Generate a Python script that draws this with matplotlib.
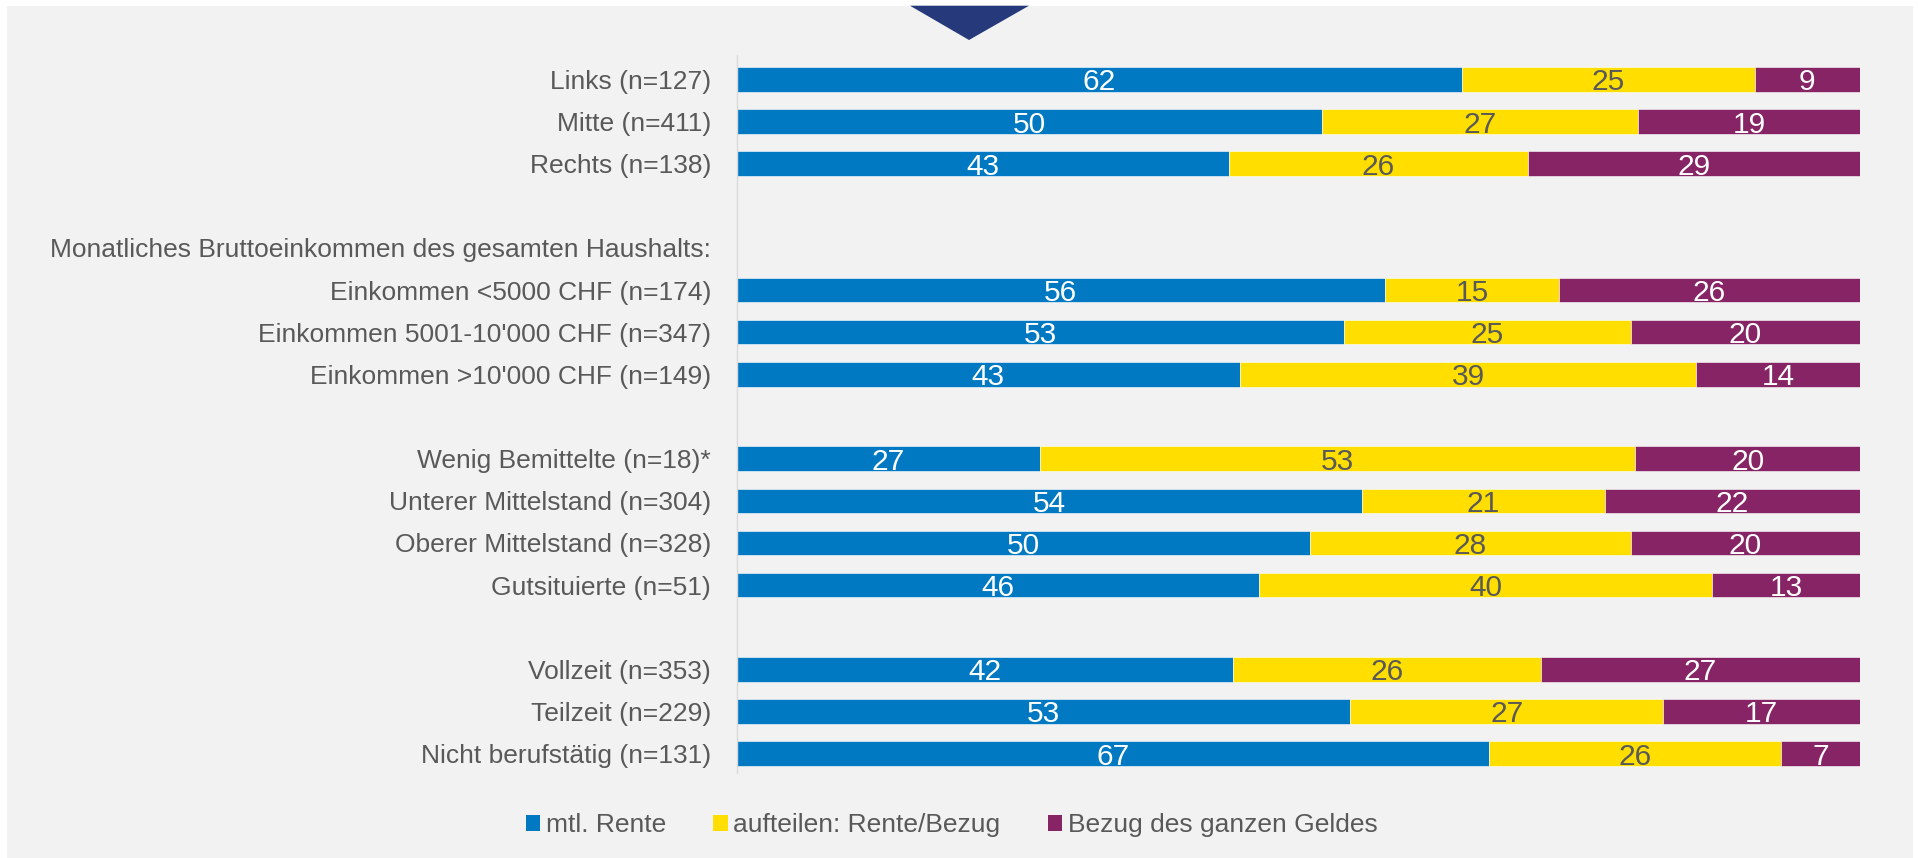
import numpy as np
import matplotlib
matplotlib.use("Agg")
import matplotlib.pyplot as plt
from matplotlib.patches import Rectangle, Polygon, Patch

plt.rcParams['font.family'] = ['Liberation Sans', 'DejaVu Sans']

# ---- data ----
categories = [
    "Links (n=127)",
    "Mitte (n=411)",
    "Rechts (n=138)",
    "",
    "Monatliches Bruttoeinkommen des gesamten Haushalts:",
    "Einkommen <5000 CHF (n=174)",
    "Einkommen 5001-10'000 CHF (n=347)",
    "Einkommen >10'000 CHF (n=149)",
    "",
    "Wenig Bemittelte (n=18)*",
    "Unterer Mittelstand (n=304)",
    "Oberer Mittelstand (n=328)",
    "Gutsituierte (n=51)",
    "",
    "Vollzeit (n=353)",
    "Teilzeit (n=229)",
    "Nicht berufstätig (n=131)",
]
nan = np.nan
rente = [62, 50, 43, nan, nan, 56, 53, 43, nan, 27, 54, 50, 46, nan, 42, 53, 67]
aufteilen = [25, 27, 26, nan, nan, 15, 25, 39, nan, 53, 21, 28, 40, nan, 26, 27, 26]
bezug = [9, 19, 29, nan, nan, 26, 20, 14, nan, 20, 22, 20, 13, nan, 27, 17, 7]
series_names = ["mtl. Rente", "aufteilen: Rente/Bezug", "Bezug des ganzen Geldes"]

colors = ["#0079C2", "#FFDE00", "#862466"]
text_colors = ["white", "#595959", "white"]
grey_txt = "#595959"

W, H = 1918, 858
fig = plt.figure(figsize=(W / 100, H / 100), dpi=100)
fig.patch.set_facecolor("white")
fig.add_artist(Rectangle((7 / W, 0), (1913 - 7) / W, (H - 5.7) / H,
                         transform=fig.transFigure, facecolor="#F2F2F2",
                         edgecolor="none", zorder=-10))
fig.add_artist(Polygon([(910 / W, 1 - 5.7 / H), (1029 / W, 1 - 5.7 / H),
                        (969 / W, 1 - 40 / H)], closed=True,
                       transform=fig.transFigure, facecolor="#25397B",
                       edgecolor="none", zorder=-5))

ax = fig.add_axes([736.5 / W, 1 - 773 / H, (1860 - 736.5) / W, (773 - 55) / H])
ax.set_facecolor("none")

vals = np.array([rente, aufteilen, bezug], dtype=float)
totals = np.nansum(vals, axis=0)
y = np.arange(len(categories))
left = np.zeros(len(categories))
for i in range(3):
    share = np.where(np.isnan(vals[i]), 0, vals[i] / np.where(totals == 0, 1, totals) * 100)
    ax.barh(y, share, left=left, height=0.58, color=colors[i],
            edgecolor="white", linewidth=0.4, label=series_names[i])
    for j in range(len(categories)):
        if not np.isnan(vals[i][j]):
            ax.text(left[j] + share[j] / 2, y[j], f"{vals[i][j]:.0f}",
                    ha="center", va="center_baseline", fontsize=21.5,
                    color=text_colors[i])
    left = left + share

ax.set_xlim(0, 100)
ax.set_ylim(16.46, -0.58)
ax.set_yticks(y)
ax.set_yticklabels(categories, fontsize=19, color=grey_txt)
ax.tick_params(axis="y", length=0, pad=18.4)
ax.set_xticks([])
for s in ["top", "right", "bottom"]:
    ax.spines[s].set_visible(False)
ax.spines["left"].set_color("#D9D9D9")
ax.spines["left"].set_linewidth(1.0)

handles = [Patch(facecolor=c, edgecolor="none") for c in colors]
fig.legend(handles, series_names, loc="center",
           bbox_to_anchor=(951.5 / W, 1 - 825 / H), ncol=3, frameon=False,
           fontsize=19, labelcolor=grey_txt, handlelength=0.55,
           handleheight=0.55, handletextpad=0.2, columnspacing=1.8)

fig.savefig("out.png", dpi=100, facecolor=fig.get_facecolor())
